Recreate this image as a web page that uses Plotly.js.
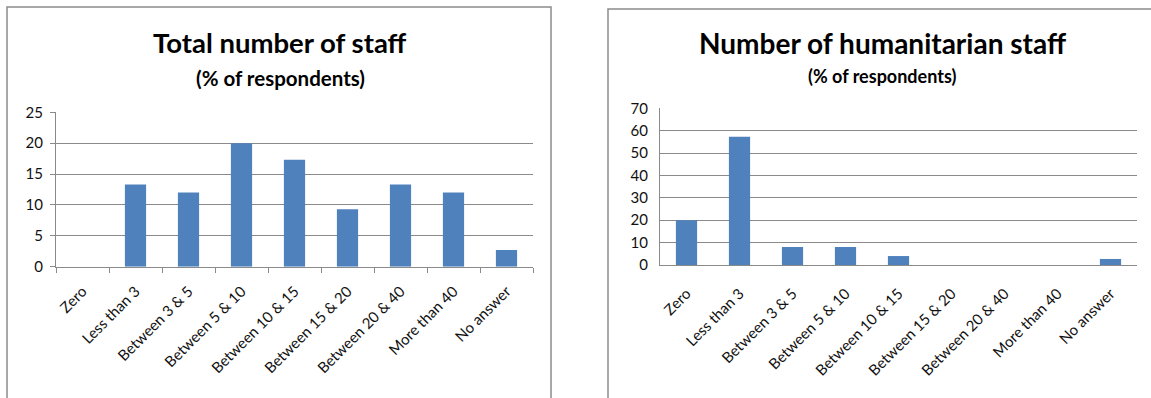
<!DOCTYPE html>
<html>
<head>
<meta charset="utf-8">
<script src="https://cdn.plot.ly/plotly-3.0.1.min.js"></script>
<style>
html,body{margin:0;padding:0;background:#fff;}
#chart{width:1151px;height:398px;}
</style>
</head>
<body>
<div id="chart"></div>
<script>
const categories = ['Zero','Less than 3','Between 3 & 5','Between 5 & 10','Between 10 & 15','Between 15 & 20','Between 20 & 40','More than 40','No answer'];
const totalStaff = [0, 13.3, 12, 20, 17.3, 9.3, 13.3, 12, 2.7];
const humanitarianStaff = [20, 57.3, 8, 8, 4, 0, 0, 0, 2.7];
const leftTitle = 'Total number of staff';
const rightTitle = 'Number of humanitarian staff';
const subTitle = '(% of respondents)';
const leftTicks = [0, 5, 10, 15, 20, 25];
const rightTicks = [0, 10, 20, 30, 40, 50, 60, 70];

const W = 1151, H = 398;
const px = v => v / W;
const py = v => 1 - v / H;

const FONT = 'Lato, "Open Sans", sans-serif';
const BAR = '#4F81BD';
const GRID = '#8a8a8a';

const traces = [
  {type:'bar', x:categories, y:totalStaff, xaxis:'x', yaxis:'y',
   marker:{color:BAR, line:{width:0}}, hoverinfo:'x+y'},
  {type:'bar', x:categories, y:humanitarianStaff, xaxis:'x2', yaxis:'y2',
   marker:{color:BAR, line:{width:0}}, hoverinfo:'x+y'}
];

const commonX = {
  type:'category', range:[-0.5, 8.5], tickangle:-45,
  tickfont:{family:FONT, size:15, color:'#111'},
  showgrid:false, showline:true, linecolor:GRID, linewidth:1, zeroline:false,
  fixedrange:true
};
const commonY = {
  showgrid:true, gridcolor:GRID, gridwidth:1, zeroline:false,
  showline:true, linecolor:GRID, linewidth:1,
  tickfont:{family:FONT, size:15, color:'#111'}, fixedrange:true
};

const layout = {
  width:W, height:H, margin:{l:0, r:0, t:0, b:0},
  paper_bgcolor:'#fff', plot_bgcolor:'rgba(0,0,0,0)',
  showlegend:false, bargap:0.6,
  font:{family:FONT, color:'#111'},
  xaxis:Object.assign({}, commonX, {domain:[px(56), px(533)], anchor:'y',
    ticks:'outside', tickson:'boundaries', ticklen:5, tickcolor:GRID, ticklabelstandoff:9}),
  yaxis:Object.assign({}, commonY, {domain:[py(266.7), py(112.3)], anchor:'x',
    range:[0, 25], tickvals:leftTicks, ticks:'outside', ticklen:5, tickcolor:GRID, ticklabelstandoff:4}),
  xaxis2:Object.assign({}, commonX, {domain:[px(660), px(1137)], anchor:'y2', ticks:'', ticklabelstandoff:13}),
  yaxis2:Object.assign({}, commonY, {domain:[py(265), py(108.3)], anchor:'x2',
    range:[0, 70], tickvals:rightTicks, ticks:'', ticklabelstandoff:8}),
  annotations:[
    {text:'<b>'+leftTitle+'</b>', xref:'paper', yref:'paper', x:px(280), y:py(43),
     xanchor:'center', yanchor:'middle', showarrow:false, font:{family:FONT, size:27.5, color:'#000'}},
    {text:'<b>'+subTitle+'</b>', xref:'paper', yref:'paper', x:px(280), y:py(78),
     xanchor:'center', yanchor:'middle', showarrow:false, font:{family:FONT, size:20.5, color:'#000'}},
    {text:'<b>'+rightTitle+'</b>', xref:'paper', yref:'paper', x:px(882), y:py(43),
     xanchor:'center', yanchor:'middle', showarrow:false, font:{family:FONT, size:28, color:'#000'}},
    {text:'<b>'+subTitle+'</b>', xref:'paper', yref:'paper', x:px(882), y:py(76),
     xanchor:'center', yanchor:'middle', showarrow:false, font:{family:FONT, size:18, color:'#000'}}
  ],
  shapes:[
    {type:'rect', xref:'paper', yref:'paper', x0:px(7), x1:px(551), y0:-0.1, y1:py(7),
     line:{color:'#8c8c8c', width:1.5}, fillcolor:'rgba(0,0,0,0)', layer:'below'},
    {type:'rect', xref:'paper', yref:'paper', x0:px(608), x1:1.1, y0:-0.1, y1:py(9),
     line:{color:'#8c8c8c', width:1.5}, fillcolor:'rgba(0,0,0,0)', layer:'below'}
  ]
};

Plotly.newPlot('chart', traces, layout, {displayModeBar:false, staticPlot:true});
</script>
</body>
</html>
